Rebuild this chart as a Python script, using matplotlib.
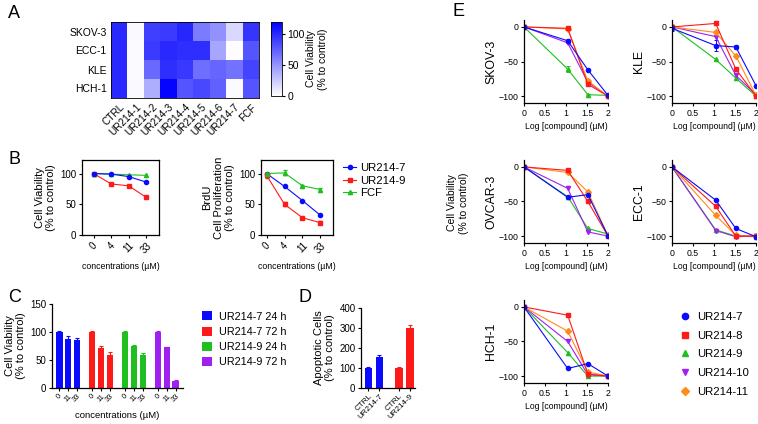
import matplotlib
matplotlib.use("Agg")
import matplotlib.pyplot as plt
import numpy as np
from matplotlib.colors import LinearSegmentedColormap
from matplotlib.lines import Line2D

plt.rcParams['font.family'] = ['Liberation Sans', 'DejaVu Sans']
plt.rcParams['axes.linewidth'] = 0.9
plt.rcParams['xtick.major.width'] = 0.8
plt.rcParams['ytick.major.width'] = 0.8
plt.rcParams['xtick.major.size'] = 2.5
plt.rcParams['ytick.major.size'] = 2.5
plt.rcParams['xtick.major.pad'] = 1.5
plt.rcParams['ytick.major.pad'] = 1.5

W, H = 758, 424

BLUE = '#0a0aff'
RED = '#ff1a1a'
GREEN = '#1fbf1f'
PURPLE = '#a020f0'
ORANGE = '#ff8c1a'

# ---------------- panel A: heatmap ----------------
heat_rows = ['SKOV-3', 'ECC-1', 'KLE', 'HCH-1']
heat_cols = ['CTRL', 'UR214-1', 'UR214-2', 'UR214-3', 'UR214-4',
             'UR214-5', 'UR214-6', 'UR214-7', 'FCF']
heat_skov3 = [100, 3, 90, 92, 102, 62, 52, 18, 95]
heat_ecc1 = [100, 2, 92, 100, 98, 98, 42, 1, 80]
heat_kle = [100, 2, 70, 98, 93, 68, 72, 66, 88]
heat_hch1 = [100, 3, 38, 118, 80, 86, 74, 2, 80]

# ---------------- panel B ----------------
b_conc = ['0', '4', '11', '33']
b_via_u7 = [100, 99, 95, 86]
b_via_u9 = [100, 83, 80, 61]
b_via_fcf = [100, 99, 98, 97]
b_brdu_u7 = [100, 79, 56, 32]
b_brdu_u9 = [97, 50, 28, 20]
b_brdu_fcf = [100, 101, 80, 74]
b_brdu_u9_err = [4, 3, 1, 2]
b_brdu_fcf_err = [1, 4, 2, 3]

# ---------------- panel C ----------------
c_conc = ['0', '11', '33']
c_groups = ['UR214-7 24 h', 'UR214-7 72 h', 'UR214-9 24 h', 'UR214-9 72 h']
c_u7_24 = [100, 88, 86]
c_u7_72 = [100, 72, 59]
c_u9_24 = [100, 75, 59]
c_u9_72 = [100, 73, 12]
c_u7_24_err = [2, 4, 3]
c_u7_72_err = [2, 3, 5]
c_u9_24_err = [1, 2, 3]
c_u9_72_err = [1, 1, 2]

# ---------------- panel D ----------------
d_labels = ['CTRL', 'UR214-7', 'CTRL', 'UR214-9']
d_values = [100, 155, 100, 298]
d_err = [6, 10, 6, 16]

# ---------------- panel E ----------------
e_log = [0, 1.04, 1.52, 2]
e_names = ['UR214-7', 'UR214-8', 'UR214-9', 'UR214-10', 'UR214-11']
e_skov3 = {'UR214-7': [0, -20, -62, -99], 'UR214-8': [0, -2, -83, -100],
           'UR214-9': [0, -61, -98, -99], 'UR214-10': [0, -23, -80, -100],
           'UR214-11': [0, -3, -78, -100]}
e_kle = {'UR214-7': [-2, -27, -29, -85], 'UR214-8': [0, 5, -61, -100],
         'UR214-9': [0, -47, -74, -100], 'UR214-10': [0, -14, -70, -98],
         'UR214-11': [0, -8, -42, -99]}
e_ovcar3 = {'UR214-7': [0, -44, -40, -100], 'UR214-8': [0, -5, -50, -100],
            'UR214-9': [0, -43, -89, -97], 'UR214-10': [0, -31, -94, -100],
            'UR214-11': [0, -8, -36, -99]}
e_ecc1 = {'UR214-7': [0, -48, -89, -101], 'UR214-8': [0, -57, -100, -100],
          'UR214-9': [0, -91, -100, -101], 'UR214-10': [0, -92, -101, -100],
          'UR214-11': [0, -70, -99, -100]}
e_hch1 = {'UR214-7': [0, -89, -82, -100], 'UR214-8': [0, -12, -97, -100],
          'UR214-9': [0, -66, -100, -100], 'UR214-10': [0, -50, -98, -100],
          'UR214-11': [0, -35, -94, -100]}
e_err = {('SKOV-3', 'UR214-7'): [0, 3, 1, 1], ('SKOV-3', 'UR214-9'): [0, 4, 1, 0],
         ('KLE', 'UR214-7'): [4, 8, 3, 1]}

e_style = {'UR214-7': (BLUE, 'o'), 'UR214-8': (RED, 's'), 'UR214-9': (GREEN, '^'),
           'UR214-10': (PURPLE, 'v'), 'UR214-11': (ORANGE, 'D')}


def px_axes(fig, x0, y0, x1, y1):
    return fig.add_axes([x0 / W, 1 - y1 / H, (x1 - x0) / W, (y1 - y0) / H])


fig = plt.figure(figsize=(W / 100, H / 100), dpi=100)

# panel letters
for letter, (px, py) in {'A': (8, 14), 'B': (8, 160), 'C': (8, 297),
                         'D': (298, 297), 'E': (452, 12)}.items():
    fig.text(px / W, 1 - py / H, letter, fontsize=13, ha='left', va='center')

# ---- A ----
ax = px_axes(fig, 111, 22, 259, 98)
cmap = LinearSegmentedColormap.from_list('wb', ['#ffffff', '#0000ff'])
heat = np.array([heat_skov3, heat_ecc1, heat_kle, heat_hch1])
im = ax.imshow(heat, cmap=cmap, vmin=0, vmax=120, aspect='auto')
ax.set_xticks(range(len(heat_cols)))
ax.set_xticklabels(heat_cols, rotation=45, ha='right', rotation_mode='anchor', fontsize=7.2)
ax.set_yticks(range(len(heat_rows)))
ax.set_yticklabels(heat_rows, fontsize=7.5)
ax.tick_params(length=0, pad=3)
for s in ax.spines.values():
    s.set_linewidth(0.6)
cax = px_axes(fig, 271, 22, 282, 96)
cb = fig.colorbar(im, cax=cax, ticks=[0, 50, 100])
cb.ax.tick_params(labelsize=7.5, length=2.5, width=0.8)
cb.outline.set_linewidth(0.6)
cb.set_label('Cell Viability\n(% to control)', fontsize=7.5, labelpad=1)

# ---- B ----
def b_style(ax, xl):
    ax.set_xticks(range(len(b_conc)))
    ax.set_xticklabels(b_conc, rotation=45, fontsize=6.5)
    ax.set_yticks([0, 50, 100])
    ax.tick_params(labelsize=7)
    ax.set_ylim(0, 122)
    ax.set_xlim(*xl)
    ax.set_xlabel('concentrations (\u00b5M)', fontsize=6.3, labelpad=5)

ax = px_axes(fig, 82, 160, 159, 235)
xb = np.arange(len(b_conc))
ax.plot(xb, b_via_u9, color=RED, marker='s', ms=3, lw=0.8)
ax.plot(xb, b_via_fcf, color=GREEN, marker='^', ms=3, lw=0.8)
ax.plot(xb, b_via_u7, color=BLUE, marker='o', ms=3, lw=0.8)
b_style(ax, (-0.66, 3.72))
ax.set_ylabel('Cell Viability\n(% to control)', fontsize=8, labelpad=3)

ax = px_axes(fig, 261, 160, 333, 235)
ax.errorbar(xb, b_brdu_u9, yerr=b_brdu_u9_err, color=RED, marker='s', ms=3, lw=0.8,
            capsize=1.5, elinewidth=0.7, label='UR214-9')
ax.errorbar(xb, b_brdu_fcf, yerr=b_brdu_fcf_err, color=GREEN, marker='^', ms=3, lw=0.8,
            capsize=1.5, elinewidth=0.7, label='FCF')
ax.plot(xb, b_brdu_u7, color=BLUE, marker='o', ms=3, lw=0.8, label='UR214-7')
b_style(ax, (-0.31, 3.7))
ax.set_ylabel('BrdU\nCell Proliferation\n(% to control)', fontsize=8, labelpad=3)
b_handles = [Line2D([], [], color=BLUE, marker='o', ms=3, lw=0.8),
             Line2D([], [], color=RED, marker='s', ms=3, lw=0.8),
             Line2D([], [], color=GREEN, marker='^', ms=3, lw=0.8)]
fig.legend(b_handles, ['UR214-7', 'UR214-9', 'FCF'], loc='upper left',
           bbox_to_anchor=(337 / W, 1 - 157 / H), frameon=False, fontsize=8.2,
           handlelength=1.2, handletextpad=0.35, labelspacing=0.25, borderpad=0)

# ---- C ----
ax = px_axes(fig, 52, 304, 183, 388)
c_series = [c_u7_24, c_u7_72, c_u9_24, c_u9_72]
c_errs = [c_u7_24_err, c_u7_72_err, c_u9_24_err, c_u9_72_err]
c_colors = [BLUE, RED, GREEN, PURPLE]
ticks, tlabels = [], []
for g, (vals, errs, col, name) in enumerate(zip(c_series, c_errs, c_colors, c_groups)):
    pos = g * 3.75 + np.arange(len(vals))
    ax.bar(pos, vals, width=0.7, color=col, label=name)
    ax.errorbar(pos, vals, yerr=[np.zeros(len(errs)), errs], fmt='none',
                ecolor=col, elinewidth=0.8, capsize=1.5, capthick=0.8)
    ticks += list(pos)
    tlabels += c_conc
ax.set_xticks(ticks)
ax.set_xticklabels(tlabels, rotation=45, fontsize=5.3)
ax.set_xlim(-0.85, 14.1)
ax.set_ylim(0, 150)
ax.set_yticks([0, 50, 100, 150])
ax.tick_params(labelsize=7)
ax.tick_params(axis='x', labelsize=5.3, pad=1)
ax.spines[['top', 'right']].set_visible(False)
ax.set_ylabel('Cell Viability\n(% to control)', fontsize=8, labelpad=3)
ax.set_xlabel('concentrations (\u00b5M)', fontsize=6.8, labelpad=5)
fig.legend(*ax.get_legend_handles_labels(), loc='upper left',
           bbox_to_anchor=(197 / W, 1 - 306 / H), frameon=False, fontsize=7.8,
           handlelength=0.9, handleheight=0.9, handletextpad=0.6, labelspacing=0.45,
           borderpad=0)

# ---- D ----
ax = px_axes(fig, 361, 308, 415, 388)
d_pos = [0, 1, 2.8, 3.8]
d_cols = [BLUE, BLUE, RED, RED]
ax.bar(d_pos, d_values, width=0.7, color=d_cols)
for p, v, e, c in zip(d_pos, d_values, d_err, d_cols):
    ax.errorbar([p], [v], yerr=[[0], [e]], fmt='none', ecolor=c, elinewidth=0.8,
                capsize=1.5, capthick=0.8)
ax.set_xticks(d_pos)
ax.set_xticklabels(d_labels, rotation=45, ha='right', rotation_mode='anchor', fontsize=5.8)
ax.tick_params(axis='x', pad=1)
ax.set_xlim(-0.68, 4.27)
ax.set_ylim(0, 400)
ax.set_yticks([0, 100, 200, 300, 400])
ax.tick_params(axis='y', labelsize=7)
ax.spines[['top', 'right']].set_visible(False)
ax.set_ylabel('Apoptotic Cells\n(% to control)', fontsize=8, labelpad=3)

# ---- E ----
e_panels = [('SKOV-3', e_skov3, 524, 20), ('KLE', e_kle, 672, 20),
            ('OVCAR-3', e_ovcar3, 524, 160), ('ECC-1', e_ecc1, 672, 160),
            ('HCH-1', e_hch1, 524, 300)]
for title, data, px0, py0 in e_panels:
    ax = px_axes(fig, px0, py0, px0 + 84, py0 + 83)
    for name in ['UR214-9', 'UR214-10', 'UR214-11', 'UR214-8', 'UR214-7']:
        col, mk = e_style[name]
        err = e_err.get((title, name))
        ax.errorbar(e_log, data[name], yerr=err, color=col, marker=mk, ms=3,
                    lw=0.8, elinewidth=0.7, capsize=1.5, capthick=0.7)
    ax.set_xlim(0, 2)
    ax.set_ylim(-110, 10)
    ax.set_xticks([0, 0.5, 1, 1.5, 2])
    ax.set_xticklabels(['0', '0.5', '1', '1.5', '2'])
    ax.set_yticks([0, -50, -100])
    ax.tick_params(labelsize=6.3)
    ax.spines[['top', 'right']].set_visible(False)
    ax.set_ylabel(title, fontsize=8.8, labelpad=1)
    ax.set_xlabel('Log [compound] (\u00b5M)', fontsize=6.2, labelpad=3)
    for s in ax.spines.values():
        s.set_clip_on(False)

fig.text(458 / W, 1 - 203 / H, 'Cell Viability\n(% to control)', rotation=90,
         fontsize=7.5, ha='center', va='center')

e_handles = [Line2D([], [], color=e_style[n][0], marker=e_style[n][1], ms=4.5, lw=0)
             for n in e_names]
fig.legend(e_handles, e_names, loc='upper left', bbox_to_anchor=(672 / W, 1 - 306 / H),
           frameon=False, fontsize=8.2, handlelength=1.2, handletextpad=0.5,
           labelspacing=0.78, borderpad=0)

fig.savefig('out.png', dpi=100)
